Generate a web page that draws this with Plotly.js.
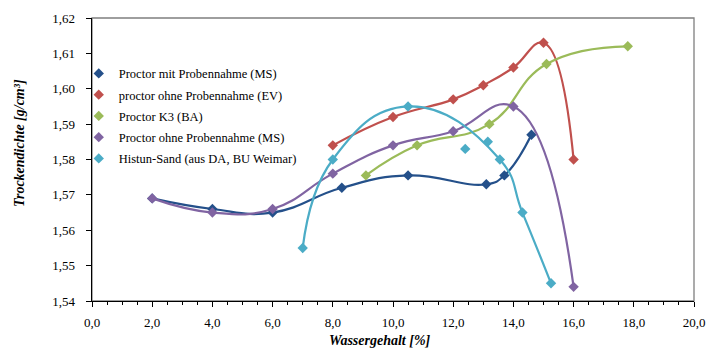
<!DOCTYPE html>
<html>
<head>
<meta charset="utf-8">
<script src="https://cdn.plot.ly/plotly-3.0.1.min.js"></script>
<style>html,body{margin:0;padding:0;background:#fff}#chart{width:716px;height:360px}</style>
</head>
<body>
<div id="chart"></div>
<script>
// Series names
const seriesNames = [
  "Proctor mit Probennahme (MS)",
  "proctor ohne Probennahme (EV)",
  "Proctor K3 (BA)",
  "Proctor ohne Probennahme (MS)",
  "Histun-Sand (aus DA, BU Weimar)"
];
const seriesColors = ["#24508A", "#C0504D", "#9BBB59", "#8064A2", "#4BACC6"];

// Water content [%] and dry density [g/cm3]
const blueX = [2.0, 4.0, 6.0, 8.3, 10.5, 13.1, 13.7, 14.6];
const blueY = [1.569, 1.566, 1.565, 1.572, 1.5755, 1.573, 1.5755, 1.587];

const redX = [8.0, 10.0, 12.0, 13.0, 14.0, 15.0, 16.0];
const redY = [1.584, 1.592, 1.597, 1.601, 1.606, 1.613, 1.580];

const greenX = [9.1, 10.8, 13.2, 15.1, 17.8];
const greenY = [1.5755, 1.584, 1.590, 1.607, 1.612];

const purpleX = [2.0, 4.0, 6.0, 8.0, 10.0, 12.0, 14.0, 16.0];
const purpleY = [1.569, 1.565, 1.566, 1.576, 1.584, 1.588, 1.595, 1.544];

const cyanX = [7.0, 8.0, 10.5, 12.4, 13.15, 13.55, 14.3, 15.25];
const cyanY = [1.555, 1.580, 1.595, 1.583, 1.585, 1.580, 1.565, 1.545];
// points the smoothed Histun-Sand curve runs through
const cyanLineX = [7.0, 8.0, 10.5, 13.55, 14.3, 15.25];
const cyanLineY = [1.555, 1.580, 1.595, 1.580, 1.565, 1.545];

const xTitle = "Wassergehalt [%]";
const yTitle = "Trockendichte [g/cm³]";

const series = [
  {lx: blueX, ly: blueY, mx: blueX, my: blueY},
  {lx: redX, ly: redY, mx: redX, my: redY},
  {lx: greenX, ly: greenY, mx: greenX, my: greenY},
  {lx: purpleX, ly: purpleY, mx: purpleX, my: purpleY},
  {lx: cyanLineX, ly: cyanLineY, mx: cyanX, my: cyanY}
];

const FONT = 'Liberation Serif';
const traces = [];
series.forEach((s, i) => {
  traces.push({
    x: s.lx, y: s.ly, type: 'scatter', mode: 'lines',
    line: {color: seriesColors[i], width: 2.2, shape: 'spline', smoothing: 1.3},
    showlegend: false, hoverinfo: 'skip', legendgroup: 'g' + i
  });
  traces.push({
    x: s.mx, y: s.my, type: 'scatter', mode: 'markers', name: seriesNames[i],
    marker: {symbol: 'diamond', size: 8, color: seriesColors[i], line: {width: 0}},
    legendgroup: 'g' + i
  });
});

const layout = {
  width: 716, height: 360,
  margin: {l: 92, r: 22, t: 18, b: 59},
  paper_bgcolor: '#fff', plot_bgcolor: '#fff',
  separators: ',.',
  font: {family: FONT, size: 13, color: '#000'},
  showlegend: true,
  legend: {
    x: -0.022, xanchor: 'left', y: 0.856, yanchor: 'top',
    bgcolor: 'rgba(0,0,0,0)', font: {family: FONT, size: 12.5, color: '#000'},
    tracegroupgap: 2, itemclick: false
  },
  xaxis: {
    range: [0, 20], dtick: 2, tick0: 0, tickformat: '.1f',
    showgrid: false, zeroline: false, showline: true, linecolor: '#000', linewidth: 1.3,
    ticks: 'outside', ticklen: 5, tickcolor: '#000', tickwidth: 1,
    minor: {dtick: 0.5, ticks: 'outside', ticklen: 3, tickcolor: '#000', tickwidth: 1, showgrid: false},
    tickfont: {family: FONT, size: 13, color: '#000'}, ticklabelstandoff: 4
  },
  yaxis: {
    range: [1.54, 1.62], dtick: 0.01, tick0: 1.54, tickformat: '.2f',
    showgrid: false, zeroline: false, showline: true, linecolor: '#000', linewidth: 1.3,
    ticks: 'outside', ticklen: 5, tickcolor: '#000', tickwidth: 1,
    tickfont: {family: FONT, size: 13, color: '#000'}, ticklabelstandoff: 8
  },
  shapes: [{
    type: 'rect', xref: 'paper', yref: 'paper', x0: 0, x1: 1, y0: 0, y1: 1,
    line: {color: '#7f7f7f', width: 1.3}, layer: 'below'
  }],
  annotations: [
    {text: '<b><i>' + xTitle + '</i></b>', xref: 'paper', yref: 'paper', x: 0.478, y: 0,
     xanchor: 'center', yanchor: 'middle', yshift: -39, showarrow: false,
     font: {family: FONT, size: 14, color: '#000'}},
    {text: '<b><i>' + yTitle + '</i></b>', xref: 'paper', yref: 'paper', x: 0, y: 0.558,
     xanchor: 'center', yanchor: 'middle', xshift: -73, textangle: -90, showarrow: false,
     font: {family: FONT, size: 14, color: '#000'}}
  ]
};

Plotly.newPlot('chart', traces, layout, {displayModeBar: false, staticPlot: true});
</script>
</body>
</html>
